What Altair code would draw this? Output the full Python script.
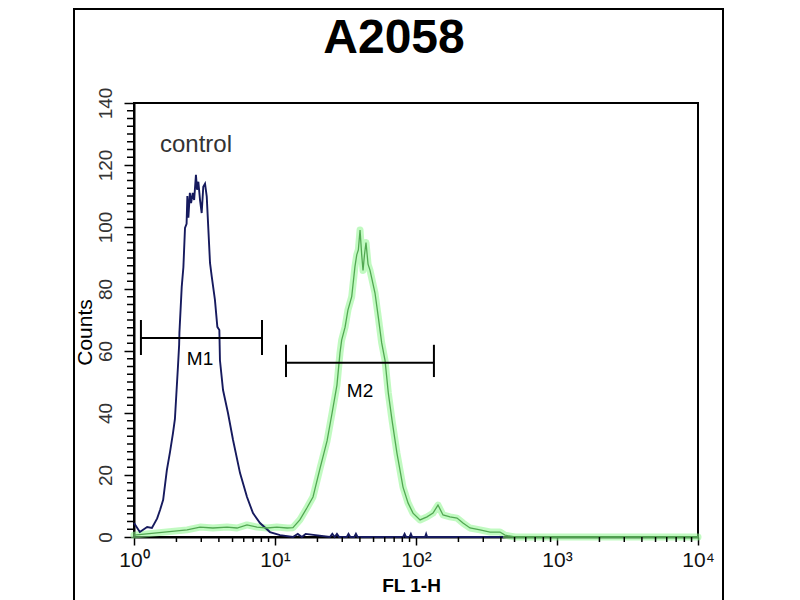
import altair as alt
import pandas as pd

# ---- data ----
blue_x = [1.0, 1.10, 1.24, 1.34, 1.46, 1.53, 1.61, 1.71, 1.80, 1.89, 1.95, 2.05, 2.09, 2.10,
          2.18, 2.24, 2.30, 2.36, 2.39, 2.43, 2.49, 2.54, 2.61, 2.67, 2.75, 2.80, 2.86, 2.94,
          3.02, 3.10, 3.19, 3.28, 3.37, 3.46, 3.56, 3.75, 3.90, 4.03, 4.07, 4.28, 4.64, 5.04,
          5.65, 6.33, 6.98, 7.83, 9.21, 10.85, 13.4, 14.5, 15.5, 16.5, 24.5, 25.5, 26.5, 27.5,
          28.5, 32.3, 33.2, 34.2, 36.5, 37.5, 38.5, 81.0, 83.0, 85.0, 90.0, 92.0, 94.0, 116.0,
          118.0, 120.0, 414.0]
blue_y = [4.5, 1.6, 3.2, 2.9, 6.0, 8.7, 12.0, 21.6, 27.4, 33.5, 38.0, 55.0, 62.0, 66.0,
          80.7, 87.0, 99.7, 101.0, 110.0, 103.0, 111.0, 107.7, 111.0, 108.7, 116.8, 112.0, 114.6, 108.7,
          104.5, 113.0, 114.0, 109.8, 99.0, 88.4, 84.0, 76.5, 67.8, 66.8, 57.0, 47.4, 40.0, 31.3,
          20.6, 12.9, 7.7, 4.5, 1.6, 0.6, 0.0, 1.0, 0.0, 1.0, 0.0, 1.0, 0.0, 1.0,
          0.0, 0.0, 1.0, 0.0, 0.0, 1.0, 0.0, 0.0, 1.0, 0.0, 0.0, 1.0, 0.0, 0.0,
          1.0, 0.0, 0.0]

green_x = [1.0, 2.38, 2.94, 3.63, 4.57, 5.38, 6.33, 7.45, 8.78, 10.3, 12.2, 13.4, 15.0, 16.9,
           18.6, 20.9, 23.4, 25.4, 27.5, 28.9, 29.7, 31.4, 32.9, 35.0, 36.9, 38.0, 39.0, 40.1,
           41.2, 42.1, 43.1, 44.2, 45.7, 47.2, 51.2, 54.0, 57.1, 60.3, 63.6, 67.6, 73.3, 77.0,
           80.9, 87.8, 95.2, 106.8, 119.7, 132.0, 143.2, 155.5, 174.2, 195.4, 215.4, 241.5,
           284.4, 334.8, 394.2, 427.7, 503.6, 10000.0]
green_y = [0.6, 2.3, 3.2, 2.9, 3.2, 2.9, 3.9, 3.2, 2.9, 3.2, 2.9, 3.0, 5.5, 9.5,
           12.9, 22.3, 31.0, 40.0, 49.0, 59.4, 63.5, 67.7, 73.2, 77.5, 87.2, 91.0, 92.6, 99.0,
           91.0, 86.0, 91.0, 95.0, 88.0, 86.0, 78.7, 71.0, 62.6, 57.0, 46.5, 37.7, 27.0, 21.6,
           16.1, 11.0, 7.7, 5.5, 6.5, 7.7, 10.3, 7.1, 6.5, 6.1, 4.5, 2.9,
           2.3, 1.6, 1.6, 0.6, 0.0, 0.0]

marker_names = ["M1", "M2"]
marker_lo = [1.12, 11.97]
marker_hi = [8.09, 134.0]
marker_level = [64.2, 56.2]
marker_tick_lo = [58.7, 51.6]
marker_tick_hi = [70.0, 62.0]
marker_label_x = [2.94, 40.1]
marker_label_y = [55.5, 45.2]

note_text = ["control"]
note_x = [2.75]
note_y = [124.2]

x_major = [1, 10, 100, 1000, 10000]
x_minor = [2, 3, 4, 5, 6, 7, 8, 9, 20, 30, 40, 50, 60, 70, 80, 90,
           200, 300, 400, 500, 600, 700, 800, 900, 2000, 3000, 4000, 5000, 6000, 7000, 8000, 9000]
y_major = [0, 20, 40, 60, 80, 100, 120, 140]
y_minor = [v * 2.5 for v in range(57) if (v * 2.5) % 20 != 0]

# ---- tables ----
blue = pd.DataFrame({"x": blue_x, "y": blue_y})
green = pd.DataFrame({"x": green_x, "y": green_y})
markers = pd.DataFrame({"name": marker_names, "lo": marker_lo, "hi": marker_hi,
                        "level": marker_level, "tlo": marker_tick_lo, "thi": marker_tick_hi,
                        "lx": marker_label_x, "ly": marker_label_y})
marker_ends = pd.DataFrame({"x": marker_lo + marker_hi,
                            "tlo": marker_tick_lo * 2, "thi": marker_tick_hi * 2})
notes = pd.DataFrame({"t": note_text, "x": note_x, "y": note_y})
xminor = pd.DataFrame({"x": x_minor})
yminor = pd.DataFrame({"y": y_minor})
one = pd.DataFrame({"k": [0]})

FONT = "Liberation Sans"
W, H = 564, 434

xscale = alt.Scale(type="log", domain=[1, 10000])
yscale = alt.Scale(domain=[0, 140], nice=False, zero=True)

xaxis = alt.Axis(values=x_major,
                 labelExpr="['10⁰','10¹','10²','10³','10⁴'][round(log(datum.value)/LN10)]",
                 title="FL 1-H", titleFont=FONT, titleFontSize=19, titleFontWeight="bold",
                 titleColor="black", titleBaseline="alphabetic", titleX=277, titleY=54,
                 labelFont=FONT, labelFontSize=21, labelColor="#111", labelPadding=4,
                 labelBaseline="top", labelFlush=False, labelOverlap=False,
                 tickSize=8, tickColor="black", tickWidth=1.5,
                 domainColor="black", domainWidth=2, grid=False)
yaxis = alt.Axis(values=y_major, labelAngle=270, labelAlign="center", labelBaseline="bottom",
                 labelFont=FONT, labelFontSize=19, labelColor="#333", labelPadding=9,
                 title="Counts", titleFont=FONT, titleFontSize=21, titleFontWeight="normal",
                 titleColor="black", titleAngle=270, titleAlign="center", titleBaseline="middle",
                 titleX=-49, titleY=229,
                 tickSize=10, tickColor="black", tickWidth=1.5,
                 domainColor="black", domainWidth=2, grid=False)


def X(f):
    return alt.X(f"{f}:Q", scale=xscale, axis=xaxis)


def Y(f):
    return alt.Y(f"{f}:Q", scale=yscale, axis=yaxis)


frame = alt.Chart(one).mark_rect(fillOpacity=0, stroke="black", strokeWidth=2).encode(
    x=alt.value(-60), x2=alt.value(589), y=alt.value(-94), y2=alt.value(700))

title = alt.Chart(one).mark_text(text="A2058", font=FONT, fontSize=48, fontWeight="bold",
                                 align="center", baseline="alphabetic", color="black").encode(
    x=alt.value(260), y=alt.value(-50))

green_halo = alt.Chart(green).mark_line(color="#8ef58e", strokeWidth=7, opacity=0.55,
                                        strokeJoin="round", strokeCap="round").encode(
    x=X("x"), y=Y("y"))
green_core = alt.Chart(green).mark_line(color="#52a852", strokeWidth=1.3).encode(
    x=X("x"), y=Y("y"))
blue_line = alt.Chart(blue).mark_line(color="#161a5e", strokeWidth=1.9).encode(
    x=X("x"), y=Y("y"))

m_h = alt.Chart(markers).mark_rule(color="black", strokeWidth=2).encode(
    x=X("lo"), x2="hi:Q", y=Y("level"))
m_v = alt.Chart(marker_ends).mark_rule(color="black", strokeWidth=2).encode(
    x=X("x"), y=Y("tlo"), y2="thi:Q")
m_t = alt.Chart(markers).mark_text(font=FONT, fontSize=19, color="black",
                                   align="center", baseline="alphabetic").encode(
    x=X("lx"), y=Y("ly"), text="name:N")
note = alt.Chart(notes).mark_text(font=FONT, fontSize=24, color="#333",
                                  align="center", baseline="alphabetic").encode(
    x=X("x"), y=Y("y"), text="t:N")

xm = alt.Chart(xminor).mark_rule(color="black", strokeWidth=1.5).encode(
    x=X("x"), y=alt.value(H), y2=alt.value(H + 5))
ym = alt.Chart(yminor).mark_rule(color="black", strokeWidth=1.5).encode(
    y=Y("y"), x=alt.value(-7), x2=alt.value(0))

chart = alt.layer(frame, title, green_halo, blue_line, green_core, m_h, m_v, m_t, note, xm, ym).properties(
    width=W, height=H,
    padding={"left": 126, "top": 95, "right": 94, "bottom": 75},
    autosize=alt.AutoSizeParams(type="none"),
    background="white",
).configure_view(stroke="black", strokeWidth=2)

chart.save("out.html", embed_options={"renderer": "svg", "actions": False})
